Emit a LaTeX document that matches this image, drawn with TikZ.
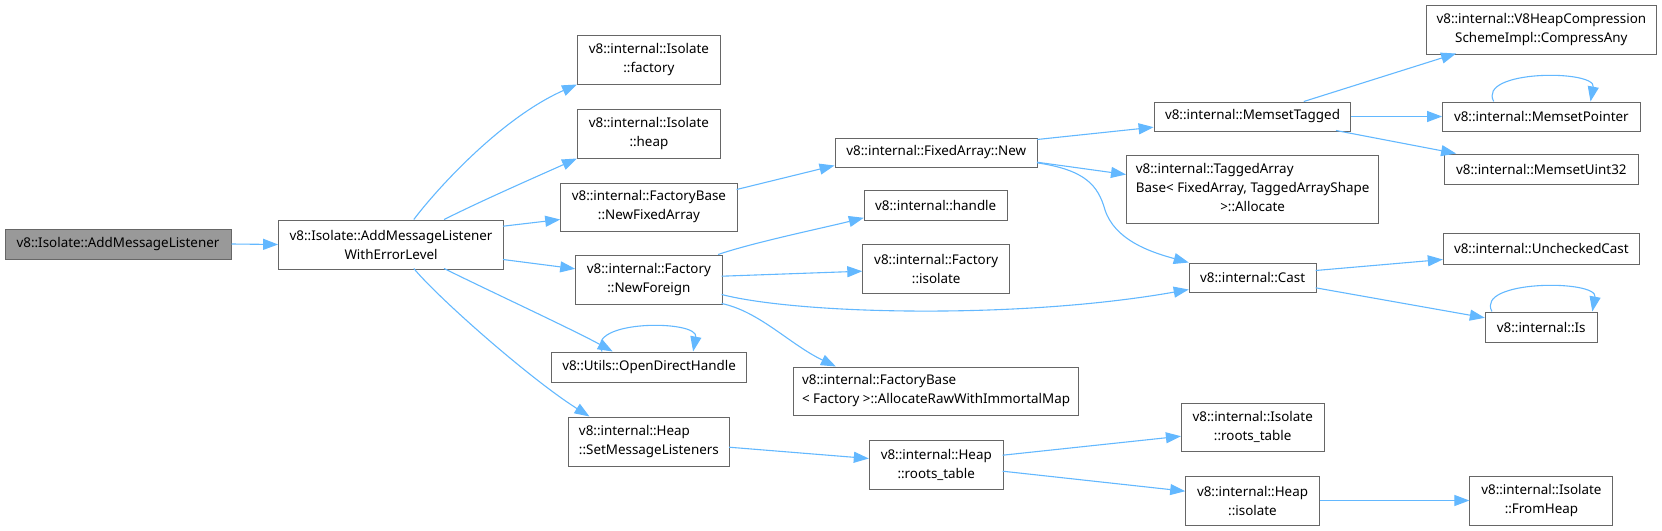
\documentclass[tikz,border=0pt]{standalone}
\usepackage{fontspec}
\setmainfont{Noto Sans}
\usetikzlibrary{arrows.meta,calc}
\definecolor{edgeblue}{HTML}{63B8FF}
\definecolor{boxgray}{HTML}{666666}
\definecolor{rootfill}{HTML}{999999}
\tikzset{
  box/.style={draw=boxgray,line width=1pt,fill=white,inner sep=0pt,align=center,
    font=\fontsize{13.4}{19}\selectfont},
  rootbox/.style={box,fill=rootfill},
  leftbox/.style={box,align=left},
  edge/.style={draw=edgeblue,line width=1.1pt,-{Triangle[length=15pt,width=11pt]}},
}
\newcommand{\bx}[7][]{\node[box,#1,minimum width={(#5)-(#3)},minimum height={(#6)-(#4)}] (#2) at ({((#3)+(#5))/2},{((#4)+(#6))/2}) {#7};}
\newcommand{\pt}[3]{($(#1.north west)+(#2,#3)$)}
\begin{document}
\begin{tikzpicture}[x=1pt,y=-1pt]
\useasboundingbox (0,0) rectangle (1662,530);
% nodes
\bx[rootbox]{root}{5}{229}{231}{259}{v8::Isolate::AddMessageListener}
\bx{amw}{278.6}{220}{503.5}{269}{v8::Isolate::AddMessageListener\\WithErrorLevel}
\bx{ifac}{577.5}{35}{720.3}{84}{v8::internal::Isolate\\::factory}
\bx{iheap}{577.5}{109}{720.3}{158}{v8::internal::Isolate\\::heap}
\bx{fbnfa}{560.7}{183}{737.1}{231}{v8::internal::FactoryBase\\::NewFixedArray}
\bx{fnf}{575.7}{255}{722.1}{304}{v8::internal::Factory\\::NewForeign}
\bx{odh}{551.8}{352}{746.4}{382}{v8::Utils::OpenDirectHandle}
\bx[leftbox]{hsml}{568.2}{417}{729.6}{466}{v8::internal::Heap\\::SetMessageListeners}
\bx{fan}{835}{138}{1037.5}{167}{v8::internal::FixedArray::New}
\bx{hdl}{864.3}{190}{1007.1}{220}{v8::internal::handle}
\bx{fiso}{862.8}{244}{1009.6}{293}{v8::internal::Factory\\::isolate}
\bx[leftbox]{fbar}{793.9}{367}{1078.2}{415}{v8::internal::FactoryBase\\< Factory >::AllocateRawWithImmortalMap}
\bx{hrt}{869.3}{440}{1003.2}{489}{v8::internal::Heap\\::roots\_table}
\bx{mst}{1154.1}{102}{1350.9}{131}{v8::internal::MemsetTagged}
\bx{tab}{1126.5}{155}{1378.8}{223}{\begin{tabular}{@{}l@{}}v8::internal::TaggedArray\\Base< FixedArray, TaggedArrayShape\\\multicolumn{1}{@{}c@{}}{>::Allocate}\end{tabular}}
\bx{cast}{1189.2}{263}{1316.1}{292}{v8::internal::Cast}
\bx{irt}{1181.4}{403}{1324}{451}{v8::internal::Isolate\\::roots\_table}
\bx{hiso}{1185.7}{476}{1319.3}{525}{v8::internal::Heap\\::isolate}
\bx{v8hc}{1426.5}{5}{1656.2}{54}{v8::internal::V8HeapCompression\\SchemeImpl::CompressAny}
\bx{msp}{1442.6}{102}{1640.1}{131}{v8::internal::MemsetPointer}
\bx{msu}{1444.4}{154}{1638.3}{184}{v8::internal::MemsetUint32}
\bx{uc}{1443.3}{233}{1639.4}{264}{v8::internal::UncheckedCast}
\bx{is}{1485.3}{312}{1597.1}{342}{v8::internal::Is}
\bx{ifh}{1469.9}{476}{1612.9}{525}{v8::internal::Isolate\\::FromHeap}
% edges
\draw[edge] (root.east) -- (amw.west);
\draw[edge] \pt{amw}{135.7}{0} .. controls +(21,-28) and +(-77,34) .. (ifac.south west);
\draw[edge] \pt{amw}{166}{0} .. controls +(40,-20) and +(-40,18) .. (iheap.south west);
\draw[edge] \pt{amw}{224.9}{6.7} -- \pt{fbnfa}{0}{37};
\draw[edge] \pt{amw}{224.9}{40} -- \pt{fnf}{0}{14.3};
\draw[edge] \pt{amw}{166}{49} .. controls +(40,20) and +(-40,-22) .. \pt{odh}{61.4}{0};
\draw[edge] \pt{amw}{135.7}{49} .. controls +(25,30) and +(-60,-38) .. \pt{hsml}{21.8}{0};
\draw[edge] \pt{odh}{50.7}{0} .. controls +(-17,-32) and +(6,-32) .. \pt{odh}{141.8}{0};
\draw[edge] \pt{fbnfa}{176.4}{7} -- \pt{fan}{0}{28};
\draw[edge] \pt{fnf}{142.9}{0} .. controls +(35,-12) and +(-40,10) .. \pt{hdl}{0}{28.3};
\draw[edge] \pt{fnf}{146.4}{21.7} -- \pt{fiso}{0}{27.7};
\draw[edge] \pt{fnf}{146.4}{40} .. controls +(78,20) and +(-169,30) .. \pt{cast}{0}{27};
\draw[edge] \pt{fnf}{146.4}{49} .. controls +(38,8) and +(-46,-22) .. \pt{fbar}{42.5}{0};
\draw[edge] \pt{fan}{202.5}{2} -- \pt{mst}{0}{25.7};
\draw[edge] \pt{fan}{202.5}{24.7} -- \pt{tab}{0}{20};
\draw[edge] \pt{fan}{202.5}{25.3} .. controls (1085,170) and (1098,185) .. (1105,210) .. controls (1115,240) and (1150,252) .. (cast.north west);
\draw[edge] \pt{mst}{150.2}{0} -- \pt{v8hc}{30.1}{49};
\draw[edge] (mst.east) -- (msp.west);
\draw[edge] \pt{mst}{182.4}{29} -- \pt{msu}{12.2}{0};
\draw[edge] \pt{msp}{51.6}{0} .. controls +(-17,-32) and +(6,-32) .. \pt{msp}{148.4}{0};
\draw[edge] \pt{cast}{126.9}{8} -- \pt{uc}{0}{27};
\draw[edge] \pt{cast}{126.9}{25.3} -- \pt{is}{0}{6.3};
\draw[edge] \pt{is}{7.1}{0} .. controls +(-17,-32) and +(6,-32) .. \pt{is}{107.5}{0};
\draw[edge] \pt{hsml}{161.4}{30.7} -- \pt{hrt}{0}{19};
\draw[edge] \pt{hrt}{133.9}{15.7} -- \pt{irt}{0}{33.7};
\draw[edge] \pt{hrt}{133.9}{31.7} -- \pt{hiso}{0}{15.7};
\draw[edge] (hiso.east) -- (ifh.west);
\end{tikzpicture}
\end{document}
